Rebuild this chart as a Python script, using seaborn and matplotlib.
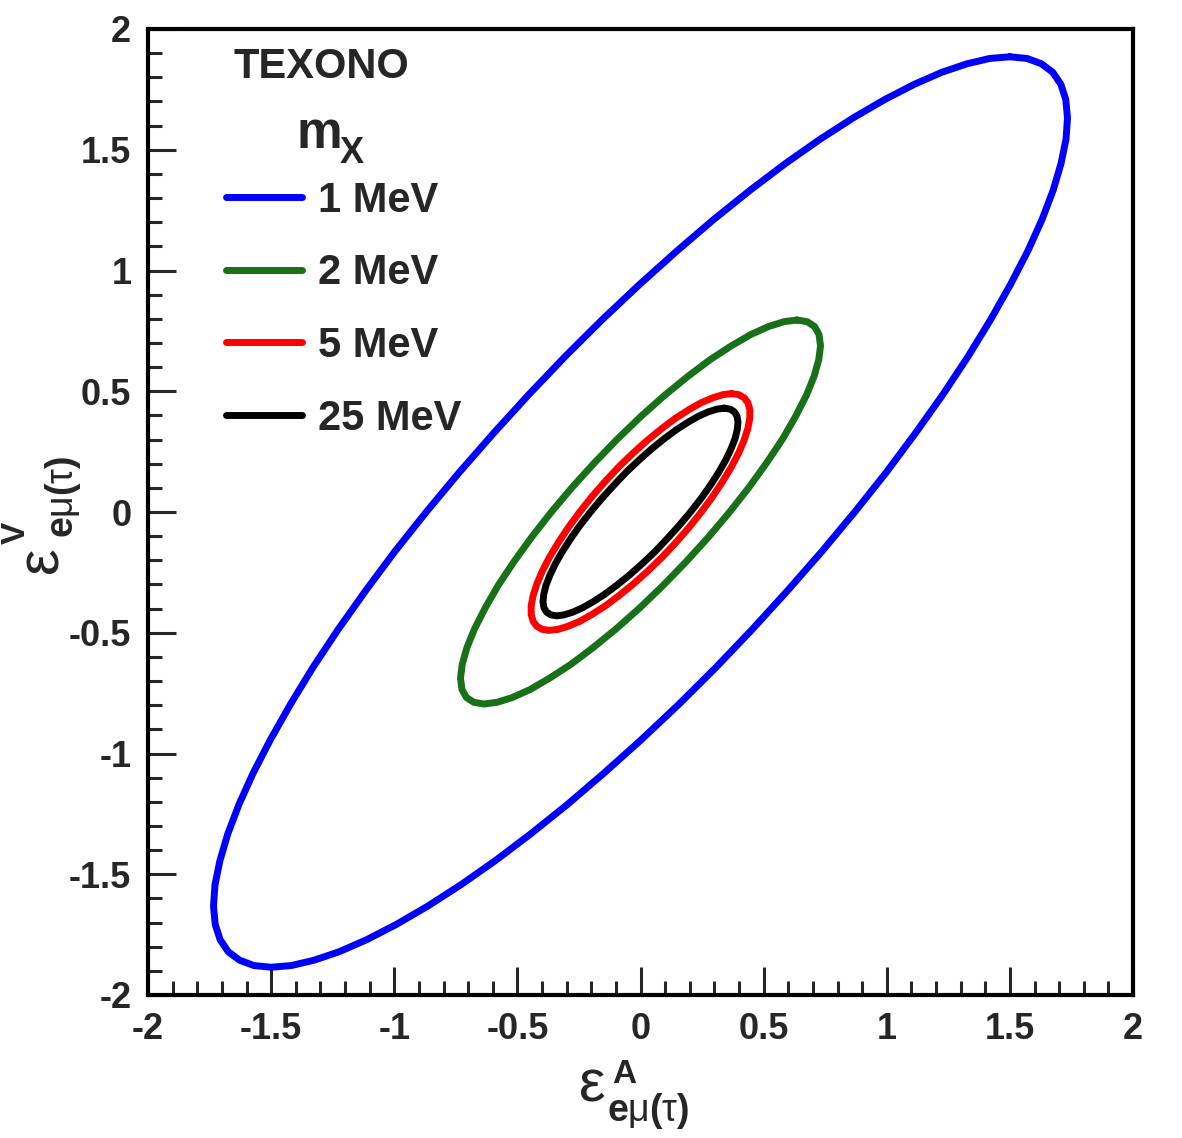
import numpy as np
import pandas as pd
import matplotlib
matplotlib.use("Agg")
import matplotlib.pyplot as plt
from matplotlib.lines import Line2D
from matplotlib.ticker import MultipleLocator, FixedLocator, FixedFormatter
import seaborn as sns

# ---------------- data ----------------
masses = ["1 MeV", "2 MeV", "5 MeV", "25 MeV"]
colors = ["#0000ff", "#187018", "#ff0000", "#000000"]

blue_x = [1.500, 1.570, 1.628, 1.674, 1.707, 1.727, 1.734, 1.728, 1.708, 1.676, 1.631, 1.573,
          1.503, 1.422, 1.331, 1.229, 1.117, 0.998, 0.870, 0.736, 0.596, 0.452, 0.305, 0.155,
          0.003, -0.148, -0.298, -0.446, -0.590, -0.730, -0.864, -0.992, -1.112, -1.224, -1.326, -1.418,
          -1.500, -1.570, -1.628, -1.674, -1.707, -1.727, -1.734, -1.728, -1.708, -1.676, -1.631, -1.573,
          -1.503, -1.422, -1.331, -1.229, -1.117, -0.998, -0.870, -0.736, -0.596, -0.452, -0.305, -0.155,
          -0.003, 0.148, 0.298, 0.446, 0.590, 0.730, 0.864, 0.992, 1.112, 1.224, 1.326, 1.418]
blue_y = [1.885, 1.878, 1.856, 1.821, 1.771, 1.708, 1.632, 1.544, 1.444, 1.333, 1.212, 1.081,
          0.943, 0.797, 0.645, 0.488, 0.327, 0.164, 0.000, -0.164, -0.327, -0.488, -0.645, -0.797,
          -0.943, -1.081, -1.212, -1.333, -1.444, -1.544, -1.632, -1.708, -1.771, -1.821, -1.856, -1.878,
          -1.885, -1.878, -1.856, -1.821, -1.771, -1.708, -1.632, -1.544, -1.444, -1.333, -1.212, -1.081,
          -0.943, -0.797, -0.645, -0.488, -0.327, -0.164, 0.000, 0.164, 0.327, 0.488, 0.645, 0.797,
          0.943, 1.081, 1.212, 1.333, 1.444, 1.544, 1.632, 1.708, 1.771, 1.821, 1.856, 1.878]

green_x = [0.635, 0.677, 0.707, 0.725, 0.731, 0.724, 0.705, 0.674, 0.631, 0.578, 0.514, 0.442,
           0.362, 0.276, 0.185, 0.092, -0.004, -0.099, -0.193, -0.283, -0.369, -0.448, -0.520, -0.582,
           -0.635, -0.677, -0.707, -0.725, -0.731, -0.724, -0.705, -0.674, -0.631, -0.578, -0.514, -0.442,
           -0.362, -0.276, -0.185, -0.092, 0.004, 0.099, 0.193, 0.283, 0.369, 0.448, 0.520, 0.582]
green_y = [0.795, 0.788, 0.768, 0.735, 0.688, 0.631, 0.562, 0.484, 0.398, 0.304, 0.206, 0.104,
           0.000, -0.104, -0.206, -0.304, -0.398, -0.484, -0.562, -0.631, -0.688, -0.735, -0.768, -0.788,
           -0.795, -0.788, -0.768, -0.735, -0.688, -0.631, -0.562, -0.484, -0.398, -0.304, -0.206, -0.104,
           0.000, 0.104, 0.206, 0.304, 0.398, 0.484, 0.562, 0.631, 0.688, 0.735, 0.768, 0.788]

red_x = [0.370, 0.399, 0.421, 0.436, 0.444, 0.444, 0.436, 0.421, 0.399, 0.370, 0.334, 0.293,
         0.247, 0.197, 0.143, 0.087, 0.029, -0.029, -0.087, -0.143, -0.197, -0.247, -0.294, -0.335,
         -0.370, -0.399, -0.421, -0.436, -0.444, -0.444, -0.436, -0.421, -0.399, -0.370, -0.334, -0.293,
         -0.247, -0.197, -0.143, -0.087, -0.029, 0.029, 0.087, 0.143, 0.197, 0.247, 0.294, 0.335]
red_y = [0.490, 0.486, 0.473, 0.453, 0.424, 0.389, 0.346, 0.298, 0.245, 0.188, 0.127, 0.064,
         0.000, -0.064, -0.127, -0.188, -0.245, -0.298, -0.346, -0.389, -0.424, -0.453, -0.473, -0.486,
         -0.490, -0.486, -0.473, -0.453, -0.424, -0.389, -0.346, -0.298, -0.245, -0.188, -0.127, -0.064,
         0.000, 0.064, 0.127, 0.188, 0.245, 0.298, 0.346, 0.389, 0.424, 0.453, 0.473, 0.486]

black_x = [0.340, 0.364, 0.381, 0.392, 0.396, 0.393, 0.384, 0.368, 0.346, 0.318, 0.284, 0.246,
           0.203, 0.157, 0.108, 0.058, 0.006, -0.046, -0.097, -0.146, -0.193, -0.236, -0.276, -0.311,
           -0.340, -0.364, -0.381, -0.392, -0.396, -0.393, -0.384, -0.368, -0.346, -0.318, -0.284, -0.246,
           -0.203, -0.157, -0.108, -0.058, -0.006, 0.046, 0.097, 0.146, 0.193, 0.236, 0.276, 0.311]
black_y = [0.430, 0.426, 0.415, 0.397, 0.372, 0.341, 0.304, 0.262, 0.215, 0.165, 0.111, 0.056,
           0.000, -0.056, -0.111, -0.165, -0.215, -0.262, -0.304, -0.341, -0.372, -0.397, -0.415, -0.426,
           -0.430, -0.426, -0.415, -0.397, -0.372, -0.341, -0.304, -0.262, -0.215, -0.165, -0.111, -0.056,
           0.000, 0.056, 0.111, 0.165, 0.215, 0.262, 0.304, 0.341, 0.372, 0.397, 0.415, 0.426]

tick_values = [-2, -1.5, -1, -0.5, 0, 0.5, 1, 1.5, 2]
tick_labels = ["-2", "-1.5", "-1", "-0.5", "0", "0.5", "1", "1.5", "2"]

# ---------------- build table ----------------
curves = [(blue_x, blue_y), (green_x, green_y), (red_x, red_y), (black_x, black_y)]
rows = []
for m, (xs, ys) in zip(masses, curves):
    xs_c = list(xs) + [xs[0]]
    ys_c = list(ys) + [ys[0]]
    for i, (xv, yv) in enumerate(zip(xs_c, ys_c)):
        rows.append({"mass": m, "order": i, "eA": xv, "eV": yv})
df = pd.DataFrame(rows)

# ---------------- style ----------------
sns.set_style("ticks")
plt.rcParams["font.family"] = ["Liberation Sans", "DejaVu Sans"]
plt.rcParams["mathtext.fontset"] = "custom"
plt.rcParams["mathtext.rm"] = "Liberation Sans"
plt.rcParams["mathtext.bf"] = "Liberation Sans:bold"
plt.rcParams["mathtext.it"] = "Liberation Sans:italic"

W, H = 1182, 1138
fig = plt.figure(figsize=(W / 100, H / 100), dpi=100)
ax = fig.add_axes([148 / W, 1 - 995 / H, 985 / W, 966 / H])


def px(x, y):
    return x / W, 1 - y / H


sns.lineplot(data=df, x="eA", y="eV", hue="mass", hue_order=masses,
             palette=dict(zip(masses, colors)), sort=False, estimator=None,
             units="mass", linewidth=5.0, legend=False, ax=ax)
for ln in ax.lines:
    ln.set_solid_joinstyle("round")
    ln.set_solid_capstyle("round")

ax.set_xlim(-2, 2)
ax.set_ylim(-2, 2)

ax.xaxis.set_major_locator(FixedLocator(tick_values))
ax.xaxis.set_major_formatter(FixedFormatter(tick_labels))
ax.yaxis.set_major_locator(FixedLocator(tick_values))
ax.yaxis.set_major_formatter(FixedFormatter(tick_labels))
ax.xaxis.set_minor_locator(MultipleLocator(0.1))
ax.yaxis.set_minor_locator(MultipleLocator(0.1))

ax.tick_params(which="major", direction="in", length=20, width=2.2,
               top=False, right=False, labelsize=26, pad=12)
ax.tick_params(which="minor", direction="in", length=10, width=2.2,
               top=False, right=False)
ax.tick_params(axis="x", which="major", pad=12)
for lab in ax.get_xticklabels() + ax.get_yticklabels():
    lab.set_fontweight("bold")

for sp in ax.spines.values():
    sp.set_linewidth(3.0)
    sp.set_color("black")

ax.set_xlabel("")
ax.set_ylabel("")

# x-axis title pieces
sub = r"$\mathbf{e}\mathrm{\mu}\mathbf{(}\mathrm{\tau}\mathbf{)}$"
fig.text(*px(579, 1101), "ε", fontsize=43, fontweight="normal",
         ha="left", va="baseline", rotation_mode="anchor")
fig.text(*px(612, 1083), "A", fontsize=24, fontweight="bold",
         ha="left", va="baseline", rotation_mode="anchor")
fig.text(*px(607, 1121), sub, fontsize=27,
         ha="left", va="baseline", rotation_mode="anchor")

# y-axis title pieces (rotated)
fig.text(*px(57, 573), "ε", fontsize=43, fontweight="normal", rotation=90,
         ha="left", va="baseline", rotation_mode="anchor")
fig.text(*px(25, 544), "V", fontsize=24, fontweight="bold", rotation=90,
         ha="left", va="baseline", rotation_mode="anchor")
fig.text(*px(73, 538), sub, fontsize=27, rotation=90,
         ha="left", va="baseline", rotation_mode="anchor")

# TEXONO and legend title
ax.text((233 - 148) / 985, (995 - 47) / 966, "TEXONO", transform=ax.transAxes,
        fontsize=30, fontweight="bold", ha="left", va="top")
fig.text(*px(296, 148), "m", fontsize=37, fontweight="bold", ha="left", va="baseline")
fig.text(*px(340, 163), "X", fontsize=26, fontweight="bold", ha="left", va="baseline")

handles = [Line2D([0], [0], color=c, lw=5.0) for c in colors]
leg = ax.legend(handles, masses, loc="upper left",
                bbox_to_anchor=((226 - 148) / 985, (995 - 181) / 966),
                frameon=False, fontsize=30, borderpad=0, borderaxespad=0,
                handlelength=1.82, handletextpad=0.4, labelspacing=0.78)
for t in leg.get_texts():
    t.set_fontweight("bold")

fig.savefig("out.png", dpi=100)
